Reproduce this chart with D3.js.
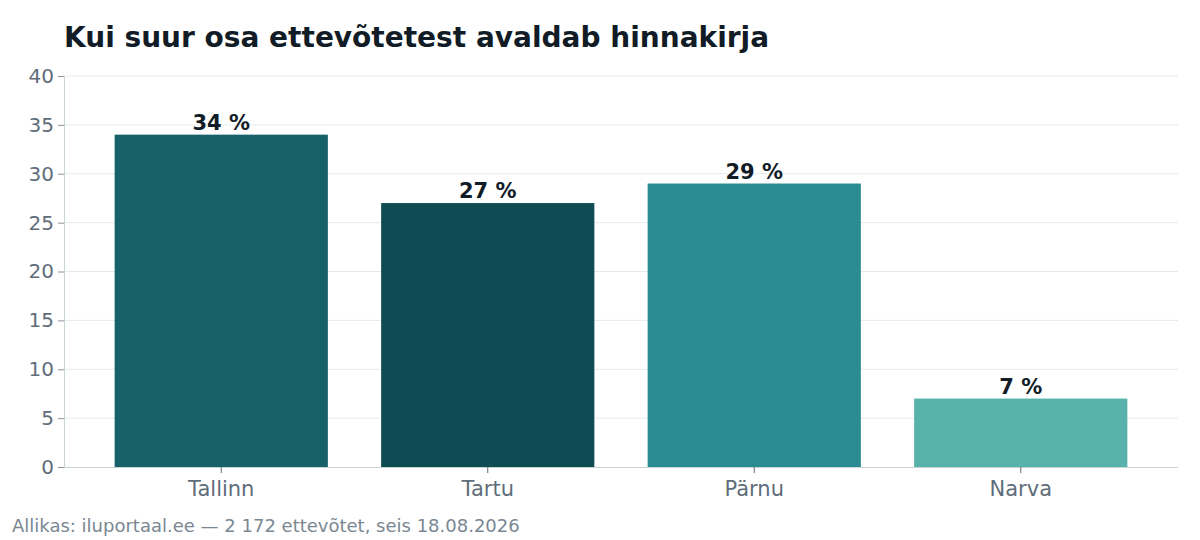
<!DOCTYPE html>
<html><head><meta charset="utf-8">
<script src="https://cdn.jsdelivr.net/npm/d3@7"></script>
<style>body{margin:0;background:#fff;font-family:"DejaVu Sans",sans-serif}</style>
</head><body><svg width="1200" height="540"></svg>
<script>
var cities = ['Tallinn', 'Tartu', 'Pärnu', 'Narva']
var shares = [34, 27, 29, 7]
var colors = ['#17616b', '#0f4b53', '#2a8b90', '#57b2ab']
var yTicks = [0, 5, 10, 15, 20, 25, 30, 35, 40]

var svg = d3.select('svg')
var plotLeft = 64, plotRight = 1178, plotTop = 76, plotBottom = 467

var x = d3.scaleBand().domain(cities).range([88, 1154]).paddingInner(0.2).paddingOuter(0.1)
var y = d3.scaleLinear().domain([0, 40]).range([plotBottom, plotTop])

svg.append('text').attr('x', 64).attr('y', 47)
  .style('font-size', '28px').style('font-weight', 'bold').attr('fill', '#111c26')
  .text('Kui suur osa ettevõtetest avaldab hinnakirja')

svg.append('g').selectAll('line').data(yTicks.slice(1)).join('line')
  .attr('x1', plotLeft).attr('x2', plotRight).attr('y1', d => y(d)).attr('y2', d => y(d))
  .attr('stroke', '#e5e9ec')

var ya = svg.append('g').attr('transform', `translate(${plotLeft},0)`)
  .call(d3.axisLeft(y).tickValues(yTicks).tickSize(6).tickPadding(4))
ya.select('.domain').attr('stroke', '#c8d4d4')
ya.selectAll('line').attr('stroke', '#8a96a0')
ya.selectAll('text').style('font-size', '20px').attr('fill', '#5f6d7a').style('font-family', 'DejaVu Sans')

svg.append('g').selectAll('rect').data(cities).join('rect')
  .attr('x', d => x(d)).attr('width', x.bandwidth())
  .attr('y', (d, i) => y(shares[i])).attr('height', (d, i) => plotBottom - y(shares[i]))
  .attr('fill', (d, i) => colors[i])

svg.append('g').selectAll('text').data(cities).join('text')
  .attr('x', d => x(d) + x.bandwidth() / 2).attr('y', (d, i) => y(shares[i]) - 5)
  .attr('text-anchor', 'middle').style('font-size', '21px').style('font-weight', 'bold')
  .attr('fill', '#111c26').text((d, i) => shares[i] + ' %')

var xa = svg.append('g').attr('transform', `translate(0,${plotBottom})`)
  .call(d3.axisBottom(x).tickSize(6).tickPadding(8))
xa.select('.domain').attr('d', `M${plotLeft},0.5H${plotRight}`).attr('stroke', '#c8d4d4')
xa.selectAll('line').attr('stroke', '#5f6d7a')
xa.selectAll('text').style('font-size', '21px').attr('fill', '#5f6d7a').style('font-family', 'DejaVu Sans')

svg.append('text').attr('x', 12).attr('y', 532).style('font-size', '18px').attr('fill', '#7a8893')
  .text('Allikas: iluportaal.ee — 2 172 ettevõtet, seis 18.08.2026')
</script></body></html>
